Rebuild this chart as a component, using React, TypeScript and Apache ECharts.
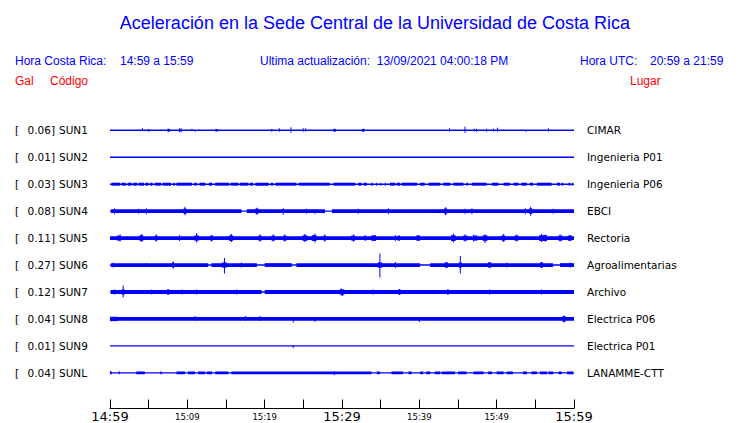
import React, { useEffect, useRef } from "react";
import * as echarts from "echarts";

// ---------- DATA ----------
const codes = ["SUN1", "SUN2", "SUN3", "SUN4", "SUN5", "SUN6", "SUN7", "SUN8", "SUN9", "SUNL"];
const galValues = [0.06, 0.01, 0.03, 0.08, 0.11, 0.27, 0.12, 0.04, 0.01, 0.04];
const places = [
  "CIMAR", "Ingenieria P01", "Ingenieria P06", "EBCI", "Rectoria",
  "Agroalimentarias", "Archivo", "Electrica P06", "Electrica P01", "LANAMME-CTT",
];
// time in minutes after 14:59 local time
const majorTicks = [0, 30, 60];
const minorTicks = [10, 20, 40, 50];

// continuous trace level (half envelope, display units)
const baseLevel = [0.7, 0.7, 0.7, 0.7, 1.9, 0.7, 0.7, 1.9, 0.7, 0.7];

// bursts: [tStart, tEnd, halfAmplitude]
const sun1Bursts = [[4.9, 5.1, 1.3], [7.4, 7.7, 1.5], [13.6, 13.9, 1.3], [20.8, 21.0, 1.3], [28.9, 29.2, 1.5], [32.6, 32.9, 1.5]];
const sun2Bursts: number[][] = [];
const sun3Bursts = [
  [0.2, 1.3, 1.5], [1.5, 1.9, 1.5], [2.3, 2.8, 1.5], [3.0, 3.5, 1.5], [3.7, 4.4, 1.5], [4.6, 5.0, 1.5],
  [5.2, 5.5, 1.5], [5.8, 6.6, 1.5], [6.8, 7.9, 1.5], [8.2, 8.4, 1.5], [8.6, 10.6, 1.5], [10.9, 11.2, 1.5],
  [11.6, 12.3, 1.5], [12.8, 13.2, 1.5], [13.6, 15.4, 1.5], [15.6, 16.6, 1.5], [16.8, 17.9, 1.5], [18.1, 18.5, 1.5],
  [18.8, 20.5, 1.5], [20.8, 21.1, 1.5], [21.4, 24.1, 1.5], [24.4, 28.4, 1.5], [28.9, 31.7, 1.5], [32.1, 32.5, 1.5],
  [32.8, 33.2, 1.5], [33.8, 34.0, 1.5], [36.2, 36.9, 1.5], [37.1, 37.5, 1.5], [37.7, 39.7, 1.5], [40.1, 40.7, 1.5],
  [41.2, 42.7, 1.5], [43.1, 44.0, 1.5], [44.4, 45.7, 1.5], [46.1, 46.3, 1.5], [46.8, 48.7, 1.5], [49.4, 50.2, 1.5],
  [50.9, 51.7, 1.5], [52.2, 52.8, 1.5], [53.2, 53.9, 1.5], [54.3, 54.7, 1.5], [55.2, 57.1, 1.5], [57.8, 58.2, 1.5],
  [58.4, 58.6, 1.5], [59.3, 59.5, 1.5],
];
const sun4Bursts = [
  [0.1, 17.0, 1.9], [17.7, 27.8, 1.9], [28.7, 60, 1.9],
  [9.5, 9.9, 2.6], [18.8, 19.2, 2.6], [43.2, 43.6, 2.6], [54.2, 54.6, 2.8],
];
const sun5Bursts = [
  [0.9, 1.4, 2.6], [3.8, 4.3, 2.8], [5.8, 6.1, 2.6], [10.9, 11.5, 2.6], [13.0, 13.3, 2.6], [15.4, 15.9, 2.8],
  [19.2, 19.6, 2.6], [20.9, 21.3, 2.6], [22.4, 22.8, 2.6], [24.9, 25.5, 2.8], [26.1, 26.7, 2.9], [27.6, 27.9, 2.6],
  [31.2, 31.7, 2.6], [33.8, 34.4, 2.8], [37.2, 37.5, 2.6], [39.6, 40.1, 2.6], [44.1, 44.7, 2.9], [45.7, 46.2, 2.6],
  [47.0, 47.5, 2.6], [48.2, 48.8, 2.8], [50.6, 51.1, 2.6], [52.3, 52.8, 2.6], [55.5, 56.5, 2.9], [58.0, 58.5, 2.6],
  [59.2, 59.7, 2.6],
];
const sun6Bursts = [
  [0.1, 12.7, 1.9], [13.1, 19.0, 1.9], [20.0, 23.5, 1.9], [24.1, 40.1, 1.9], [41.4, 57.3, 1.9], [58.2, 60, 1.9],
  [8.0, 8.3, 2.6], [14.5, 15.1, 2.6], [34.6, 35.2, 2.6], [43.3, 43.7, 2.6], [45.1, 45.5, 2.6], [48.9, 49.3, 2.6],
  [55.6, 56.0, 2.6],
];
const sun7Bursts = [
  [0.1, 19.6, 1.9], [20.0, 60, 1.9],
  [1.5, 1.9, 2.6], [7.4, 7.7, 2.5], [29.7, 30.3, 2.6], [37.3, 37.6, 2.5],
];
const sun8Bursts = [[0, 1.0, 2.2], [58.5, 58.9, 2.8]];
const sun9Bursts: number[][] = [];
const sunLBursts = [
  [0.0, 0.2, 1.4], [3.4, 4.5, 1.4], [6.5, 6.7, 1.4], [8.6, 9.7, 1.4], [10.1, 11.0, 1.4], [11.4, 12.3, 1.4],
  [12.5, 13.2, 1.4], [13.6, 15.3, 1.4], [15.7, 33.8, 1.4], [34.5, 34.9, 1.4], [36.4, 37.9, 1.4], [38.6, 39.0, 1.4],
  [40.1, 40.5, 1.4], [40.9, 41.4, 1.4], [42.0, 42.7, 1.4], [42.9, 44.6, 1.4], [45.0, 46.1, 1.4], [47.0, 48.3, 1.4],
  [48.9, 49.4, 1.4], [50.0, 50.9, 1.4], [51.3, 52.1, 1.4], [53.4, 53.9, 1.4], [54.5, 55.2, 1.4], [55.6, 56.5, 1.4],
  [56.7, 57.3, 1.4], [58.0, 58.4, 1.4], [59.1, 59.9, 1.4],
];

// spikes: [t, up, down]
const sun1Spikes = [
  [4.2, 2, 1], [9.0, 2, 2], [9.2, 2, 2], [10.6, 1.5, 0], [11.0, 0, 1.5], [21.9, 2, 1.5], [23.4, 3, 2.5],
  [25.0, 2, 1.5], [25.3, 2, 1.5], [43.9, 2, 1.5], [45.9, 3.5, 2.5], [47.1, 1.5, 1], [47.4, 1.5, 1.5],
  [48.7, 1.5, 1.5], [49.6, 1.5, 1.5], [50.1, 2.5, 1.5], [53.8, 0, 1.5], [56.7, 2, 1.5],
];
const sun2Spikes: number[][] = [];
const sun3Spikes = [[2.0, 1.5, 1.5], [34.5, 1.5, 1.5], [35.0, 1.5, 1.5], [35.6, 1.5, 1.5], [59.8, 1.5, 1.5]];
const sun4Spikes = [
  [0.6, 3, 3], [3.7, 2.5, 2.5], [4.7, 3, 3], [9.7, 4.5, 4], [19.0, 3.5, 3.5], [22.4, 3, 3.5], [25.4, 2.5, 2.5],
  [26.5, 2, 2.5], [32.1, 2.5, 2.5], [36.0, 3, 3], [43.4, 4, 4], [45.9, 2.5, 2.5], [46.8, 3, 3], [53.7, 3, 3],
  [54.4, 4.5, 4.5], [57.3, 2.5, 2.5],
];
const sun5Spikes = [
  [1.3, 3.5, 3.5], [4.1, 4, 4], [6.0, 3.5, 3.5], [9.0, 3, 3], [11.2, 5, 4.5], [13.1, 3, 3.5], [15.7, 4, 4],
  [19.4, 3.5, 3.5], [21.1, 3.5, 3.5], [22.6, 3.5, 3.5], [25.2, 4, 4], [26.5, 4.5, 4.5], [27.8, 3.5, 3.5],
  [31.5, 3.5, 3.5], [33.0, 3, 3], [36.9, 3, 3], [39.9, 3, 3], [44.4, 4.5, 4.5], [45.9, 3.5, 3.5], [47.0, 3.5, 3.5],
  [48.5, 3.5, 5], [50.9, 4, 4], [52.6, 3.5, 3.5], [55.8, 4, 4], [56.3, 3.5, 3.5], [58.2, 3.5, 3.5], [59.5, 3, 3],
];
const sun6Spikes = [
  [0.4, 2.5, 2.5], [4.7, 2, 2], [8.2, 3.5, 3.5], [14.8, 7, 8.5], [17.0, 2.5, 2.5], [34.9, 11.5, 12.5],
  [36.9, 3, 3], [43.5, 3, 3], [45.3, 9, 8.5], [49.1, 3, 3], [51.3, 2.5, 2.5], [55.8, 3, 3], [59.5, 2.5, 2.5],
];
const sun7Spikes = [
  [0.6, 2.5, 2.5], [1.7, 6.5, 5.5], [5.4, 2.5, 2.5], [7.5, 3, 3], [9.3, 2.5, 2.5], [11.2, 2.5, 2.5],
  [16.4, 2.5, 2.5], [29.9, 3.5, 3.5], [30.1, 2.5, 4], [34.0, 2.5, 2.5], [37.4, 3, 3], [43.7, 3, 3],
  [49.1, 2.5, 2.5], [55.8, 2.5, 2.5],
];
const sun8Spikes = [[11.0, 3, 2], [17.5, 3, 2], [19.4, 3, 2], [23.7, 2, 3.5], [26.5, 2, 3], [40.0, 2, 3], [58.7, 3.5, 3.5]];
const sun9Spikes = [[23.7, 0.7, 2]];
const sunLSpikes = [[0.1, 1.5, 1.5], [1.2, 1.5, 1.5], [29.0, 1, 2.5]];

const bursts = [sun1Bursts, sun2Bursts, sun3Bursts, sun4Bursts, sun5Bursts, sun6Bursts, sun7Bursts, sun8Bursts, sun9Bursts, sunLBursts];
const spikes = [sun1Spikes, sun2Spikes, sun3Spikes, sun4Spikes, sun5Spikes, sun6Spikes, sun7Spikes, sun8Spikes, sun9Spikes, sunLSpikes];

// ---------- LAYOUT ----------
const W = 740;
const H = 423;
const PLOT_LEFT = 110;
const PLOT_RIGHT = 574;
const PLOT_TOP = 116.5;
const AXIS_Y = 409;
const ROW0 = 130.3;
const ROW_STEP = 27;
const BLUE = "#0000ff";
const RED = "#ff0000";
const HEAD_FONT = '"Liberation Sans", Arial, sans-serif';
const LABEL_FONT = '"DejaVu Sans", sans-serif';

const START_MIN = 14 * 60 + 59;
const fmtTime = (v: number) => {
  const t = START_MIN + v;
  return `${Math.floor(t / 60)}:${String(t % 60).padStart(2, "0")}`;
};

export default function App() {
  const ref = useRef<HTMLDivElement>(null);
  useEffect(() => {
    document.body.style.margin = "0";
    const chart = echarts.init(ref.current!, null, { renderer: "svg" });
    const centerVal = (i: number) => ROW0 - PLOT_TOP + ROW_STEP * i;

    const data: number[][] = [];
    codes.forEach((_, i) => {
      const c = centerVal(i);
      data.push([0, 60, c - baseLevel[i], c + baseLevel[i], 0]);
      bursts[i].forEach(([a, b, h]) => data.push([a, b, c - h, c + h, 0]));
      spikes[i].forEach(([t, up, dn]) => data.push([t, t, c - up, c + dn, 1]));
    });

    const graphics: any[] = [];
    const txt = (text: string, x: number, y: number, font: string, fill: string, align = "left") => ({
      type: "text",
      style: { text, x, y, font, fill, align, verticalAlign: "middle", textAlign: align, textVerticalAlign: "middle" },
    });
    graphics.push(txt("Aceleración en la Sede Central de la Universidad de Costa Rica", 375, 23, `18px ${HEAD_FONT}`, BLUE, "center"));
    graphics.push(txt("Hora Costa Rica:", 15, 60.5, `12px ${HEAD_FONT}`, BLUE));
    graphics.push(txt(`${fmtTime(0)} a ${fmtTime(60)}`, 120, 60.5, `12px ${HEAD_FONT}`, BLUE));
    graphics.push(txt("Ultima actualización:  13/09/2021 04:00:18 PM", 260, 60.5, `12px ${HEAD_FONT}`, BLUE));
    graphics.push(txt("Hora UTC:", 580, 60.5, `12px ${HEAD_FONT}`, BLUE));
    graphics.push(txt("20:59 a 21:59", 650, 60.5, `12px ${HEAD_FONT}`, BLUE));
    graphics.push(txt("Gal", 15, 80.5, `12px ${HEAD_FONT}`, RED));
    graphics.push(txt("Código", 50, 80.5, `12px ${HEAD_FONT}`, RED));
    graphics.push(txt("Lugar", 630, 80.5, `12px ${HEAD_FONT}`, RED));
    codes.forEach((code, i) => {
      const y = ROW0 + ROW_STEP * i;
      graphics.push(txt("[", 15, y, `10.5px ${LABEL_FONT}`, "#000"));
      graphics.push(txt(`${galValues[i].toFixed(2)}]`, 55, y, `10.5px ${LABEL_FONT}`, "#000", "right"));
      graphics.push(txt(code, 59, y, `10.5px ${LABEL_FONT}`, "#000"));
      graphics.push(txt(places[i], 587, y, `10.5px ${LABEL_FONT}`, "#000"));
    });

    chart.setOption({
      animation: false,
      grid: { left: PLOT_LEFT, right: W - PLOT_RIGHT, top: PLOT_TOP, bottom: H - AXIS_Y },
      xAxis: {
        type: "value",
        position: "bottom",
        min: 0,
        max: 60,
        interval: 5,
        splitLine: { show: false },
        axisLine: { show: true, onZero: false, lineStyle: { color: "#000", width: 1 } },
        axisTick: { show: true, inside: true, length: 9, lineStyle: { color: "#000", width: 1 } },
        axisLabel: {
          margin: 1,
          showMinLabel: true,
          showMaxLabel: true,
          hideOverlap: false,
          formatter: (v: number) =>
            majorTicks.includes(v) ? `{big|${fmtTime(v)}}` : minorTicks.includes(v) ? `{small|${fmtTime(v)}}` : "",
          rich: {
            big: { fontSize: 13, lineHeight: 14, fontFamily: LABEL_FONT, color: "#000", fontWeight: "normal" },
            small: { fontSize: 8.5, lineHeight: 14, fontFamily: LABEL_FONT, color: "#000", fontWeight: "normal" },
          },
        },
      },
      yAxis: {
        type: "value",
        inverse: true,
        min: 0,
        max: AXIS_Y - PLOT_TOP,
        show: false,
        splitLine: { show: false },
      },
      graphic: graphics,
      series: [
        {
          type: "custom",
          clip: false,
          encode: { x: [0, 1], y: [2, 3] },
          data,
          renderItem: (_p: any, api: any) => {
            const a = api.coord([api.value(0), api.value(2)]);
            const b = api.coord([api.value(1), api.value(3)]);
            const isSpike = api.value(4) === 1;
            const x = isSpike ? a[0] - 0.5 : a[0];
            const w = isSpike ? 1 : Math.max(b[0] - a[0], 1);
            return {
              type: "rect",
              shape: { x, y: a[1], width: w, height: b[1] - a[1] },
              style: { fill: BLUE },
            };
          },
        },
      ],
    });
    return () => chart.dispose();
  }, []);
  return <div ref={ref} style={{ position: "absolute", left: 0, top: 0, width: W, height: H }} />;
}
